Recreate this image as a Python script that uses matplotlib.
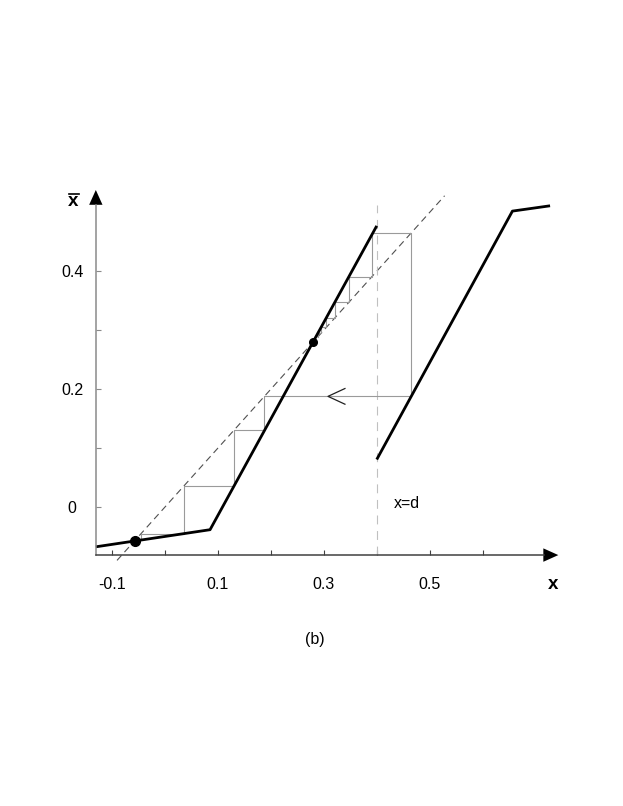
import matplotlib
matplotlib.use("Agg")
import matplotlib.pyplot as plt
from matplotlib.patches import Polygon
from matplotlib.ticker import FixedLocator, FixedFormatter

# ----------------------------------------------------------------------------
# Data
# ----------------------------------------------------------------------------

# left branch of the map (two linear pieces)
left_x = [-0.13, 0.0855, 0.40]
left_y = [-0.067, -0.038, 0.477]

# right branch of the map (after the jump at x = d)
right_x = [0.40, 0.656, 0.727]
right_y = [0.081, 0.502, 0.511]

# diagonal xbar = x
diag_x = [-0.09, 0.528]

# discontinuity position
d_value = 0.40

# fixed points (lower one is stable, upper one is unstable)
fixed_x = [-0.057, 0.2794]

# orbit used for the cobweb
orbit = [0.289, 0.295, 0.305, 0.321, 0.348, 0.391, 0.465,
         0.188, 0.131, 0.036, -0.0445, -0.055]

# ticks
x_major = [-0.1, 0.1, 0.3, 0.5]
x_major_labels = ["-0.1", "0.1", "0.3", "0.5"]
x_minor = [0.0, 0.2, 0.4, 0.6]
y_major = [0.0, 0.2, 0.4]
y_major_labels = ["0", "0.2", "0.4"]
y_minor = [0.1, 0.3]


def main():
    plt.rcParams["font.family"] = ["Liberation Sans", "DejaVu Sans"]

    fig = plt.figure(figsize=(6.23, 8.06), dpi=100)
    ax = fig.add_axes([0, 0, 1, 1])
    ax.patch.set_alpha(0)

    # data limits chosen so the plot sits where it does in the reference
    ax.set_xlim(-0.3108, 0.8646)
    ax.set_ylim(-0.5063, 0.8598)

    axis_x0 = -0.13     # where the vertical axis stands
    axis_y0 = -0.081    # where the horizontal axis stands

    #------------------------------------------------------------------------
    # Axes: spines moved into the data, with arrow heads
    #------------------------------------------------------------------------
    for side in ["top", "right"]:
        ax.spines[side].set_visible(False)
    ax.spines["left"].set_position(("data", axis_x0))
    ax.spines["left"].set_bounds(axis_y0, 0.513)
    ax.spines["left"].set_color("#8a8a8a")
    ax.spines["left"].set_linewidth(1.1)
    ax.spines["bottom"].set_position(("data", axis_y0))
    ax.spines["bottom"].set_bounds(axis_x0, 0.715)
    ax.spines["bottom"].set_color("#404040")
    ax.spines["bottom"].set_linewidth(1.1)

    ax.xaxis.set_major_locator(FixedLocator(x_major))
    ax.xaxis.set_major_formatter(FixedFormatter(x_major_labels))
    ax.xaxis.set_minor_locator(FixedLocator(x_minor))
    ax.yaxis.set_major_locator(FixedLocator(y_major))
    ax.yaxis.set_major_formatter(FixedFormatter(y_major_labels))
    ax.yaxis.set_minor_locator(FixedLocator(y_minor))

    ax.tick_params(axis="x", which="both", direction="in", length=3.5,
                   width=0.8, color="#404040", pad=16, labelsize=11.5)
    ax.tick_params(axis="y", which="both", direction="in", length=3.5,
                   width=0.8, color="#8a8a8a", labelsize=11.5)
    for lab in ax.get_yticklabels():
        lab.set_horizontalalignment("center")
    ax.yaxis.set_tick_params(pad=17)

    # arrow heads
    ax.add_patch(Polygon([[axis_x0, 0.5378], [axis_x0 - 0.0126, 0.5127],
                          [axis_x0 + 0.0126, 0.5127]], closed=True,
                         color="black", lw=0))
    ax.add_patch(Polygon([[0.7426, axis_y0], [0.7143, axis_y0 + 0.0114],
                          [0.7143, axis_y0 - 0.0114]], closed=True,
                         color="black", lw=0))

    #------------------------------------------------------------------------
    # Reference lines
    #------------------------------------------------------------------------
    ax.plot(diag_x, diag_x, color="#505050", lw=0.8, ls=(0, (6, 4)))
    ax.plot([d_value, d_value], [axis_y0, 0.512], color="#c0c0c0", lw=0.8,
            ls=(0, (8, 6)))

    #------------------------------------------------------------------------
    # Cobweb
    #------------------------------------------------------------------------
    web_x = []
    web_y = []
    for i in range(len(orbit) - 1):
        web_x += [orbit[i], orbit[i]]
        web_y += [orbit[i], orbit[i + 1]]
    web_x.append(orbit[-1])
    web_y.append(orbit[-1])
    ax.plot(web_x, web_y, color="#9a9a9a", lw=0.8)

    # open arrow on the long horizontal step
    jump_y = orbit[7]
    ax.plot([0.340, 0.308, 0.340], [jump_y + 0.0133, jump_y, jump_y - 0.0133],
            color="#202020", lw=0.9)

    #------------------------------------------------------------------------
    # The map itself
    #------------------------------------------------------------------------
    ax.plot(left_x, left_y, color="black", lw=2.0, solid_capstyle="butt")
    ax.plot(right_x, right_y, color="black", lw=2.0, solid_capstyle="butt")

    # fixed points
    ax.plot(fixed_x[0], fixed_x[0], "o", color="black", ms=7)
    ax.plot(fixed_x[1], fixed_x[1], "o", color="black", ms=5.5)

    #------------------------------------------------------------------------
    # Labels
    #------------------------------------------------------------------------
    ax.text(-0.1725, 0.5175, "x", fontsize=13.5, fontweight="bold",
            ha="center", va="center")
    ax.plot([-0.1805, -0.1615], [0.5315, 0.5315], color="black", lw=1.2)
    ax.text(0.7332, -0.1317, "x", fontsize=13.5, fontweight="bold",
            ha="center", va="center")
    ax.text(0.457, 0.0056, "x=d", fontsize=11.5, ha="center", va="center")
    ax.text(0.2838, -0.2246, "(b)", fontsize=11.5, ha="center",
            va="center")

    fig.savefig("out.png", dpi=100)


if __name__ == "__main__":
    main()
